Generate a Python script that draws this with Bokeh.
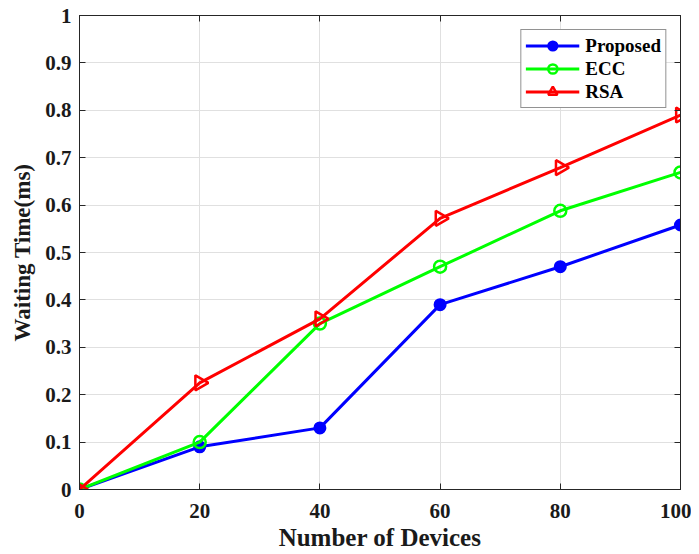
import math
from bokeh.plotting import figure
from bokeh.models import LinearAxis, FixedTicker, Range1d, Legend, LegendItem
from bokeh.embed import file_html
from bokeh.resources import INLINE

devices = [0, 20, 40, 60, 80, 100]
proposed = [0.0, 0.09, 0.13, 0.39, 0.47, 0.558]
ecc = [0.0, 0.10, 0.35, 0.47, 0.588, 0.669]
rsa = [0.0, 0.225, 0.36, 0.572, 0.679, 0.79]

x_ticks = [0, 20, 40, 60, 80, 100]
x_tick_labels = ["0", "20", "40", "60", "80", "100"]
y_ticks = [0, 0.1, 0.2, 0.3, 0.4, 0.5, 0.6, 0.7, 0.8, 0.9, 1]
y_tick_labels = ["0", "0.1", "0.2", "0.3", "0.4", "0.5", "0.6", "0.7", "0.8", "0.9", "1"]

FONT = "Liberation Serif"
AX = "#262626"

p = figure(width=691, height=554, output_backend="svg", toolbar_location=None,
           x_range=Range1d(0, 100), y_range=Range1d(0, 1),
           min_border_left=79, min_border_top=15, min_border_right=11, min_border_bottom=65)
p.outline_line_color = AX
p.outline_line_width = 1

def style_axis(ax, labels_visible=True):
    ax.axis_line_color = AX
    ax.major_tick_line_color = AX
    ax.major_tick_in = 6
    ax.major_tick_out = 0
    ax.minor_tick_line_color = None
    ax.major_label_text_font = FONT
    ax.major_label_text_font_style = "bold"
    ax.major_label_text_color = "#1a1a1a"
    if labels_visible:
        ax.major_label_text_font_size = "21px"
    else:
        ax.major_label_text_font_size = "2px"
        ax.major_label_standoff = 0

xax = p.xaxis[0]
xax.ticker = FixedTicker(ticks=x_ticks)
xax.major_label_overrides = {t: l for t, l in zip(x_ticks, x_tick_labels)}
style_axis(xax)
xax.major_label_standoff = 14
xax.axis_label = "Number of Devices"
xax.axis_label_text_font = FONT
xax.axis_label_text_font_style = "bold"
xax.axis_label_text_font_size = "25px"
xax.axis_label_text_color = "#1a1a1a"
xax.axis_label_standoff = 3

yax = p.yaxis[0]
yax.ticker = FixedTicker(ticks=y_ticks)
yax.major_label_overrides = {t: l for t, l in zip(y_ticks, y_tick_labels)}
style_axis(yax)
yax.major_label_standoff = 8
yax.axis_label = "Waiting Time(ms)"
yax.axis_label_text_font = FONT
yax.axis_label_text_font_style = "bold"
yax.axis_label_text_font_size = "23px"
yax.axis_label_text_color = "#1a1a1a"
yax.axis_label_standoff = 7

top = LinearAxis(ticker=FixedTicker(ticks=x_ticks))
top.major_label_overrides = {t: "" for t in x_ticks}
style_axis(top, False)
p.add_layout(top, "above")
right = LinearAxis(ticker=FixedTicker(ticks=y_ticks))
right.major_label_overrides = {t: "" for t in y_ticks}
style_axis(right, False)
p.add_layout(right, "right")

p.xgrid.ticker = FixedTicker(ticks=x_ticks)
p.ygrid.ticker = FixedTicker(ticks=y_ticks)
p.grid.grid_line_color = "#e0e0e0"
p.grid.grid_line_width = 1

lw = 3
l1 = p.line(devices, proposed, line_color="#0000ff", line_width=lw)
m1 = p.scatter(devices, proposed, marker="circle", size=11, fill_color="#0000ff", line_color="#0000ff", line_width=2)
l2 = p.line(devices, ecc, line_color="#00ff00", line_width=lw)
m2 = p.scatter(devices, ecc, marker="circle", size=12, fill_alpha=0, line_color="#00ff00", line_width=2.5)
l3 = p.line(devices, rsa, line_color="#ff0000", line_width=lw)
m3 = p.scatter(devices, rsa, marker="triangle", angle=-math.pi / 2, size=15, fill_alpha=0,
               line_color="#ff0000", line_width=2.5)

legend = Legend(items=[
    LegendItem(label="Proposed", renderers=[l1, m1]),
    LegendItem(label="ECC", renderers=[l2, m2]),
    LegendItem(label="RSA", renderers=[l3, m3]),
], location="top_right")
legend.margin = 14
legend.padding = 4
legend.spacing = 0
legend.glyph_width = 54
legend.glyph_height = 23
legend.label_height = 23
legend.label_standoff = 6
legend.label_text_font = FONT
legend.label_text_font_style = "bold"
legend.label_text_font_size = "19px"
legend.label_text_color = "#000000"
legend.border_line_color = "#262626"
legend.border_line_width = 1
legend.background_fill_color = "white"
legend.background_fill_alpha = 1
p.add_layout(legend, "center")

open("out.html", "w").write(file_html(p, INLINE))
